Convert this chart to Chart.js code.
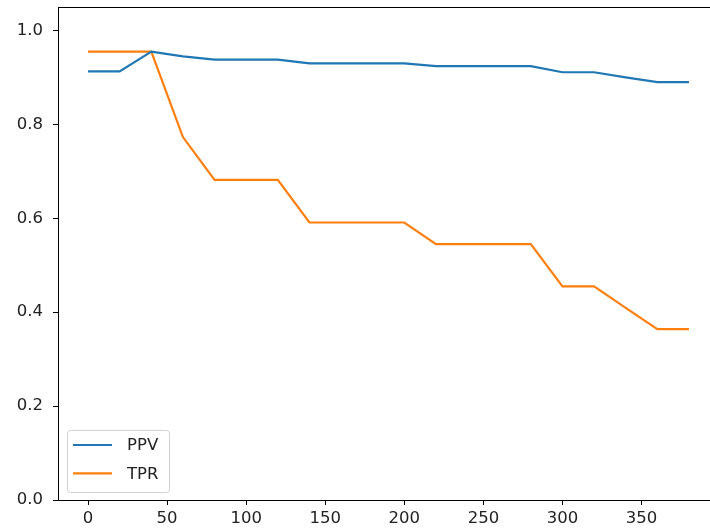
<!DOCTYPE html>
<html>
<head>
<meta charset="utf-8">
<script src="https://cdn.jsdelivr.net/npm/chart.js@4"></script>
<style>
    html, body { margin: 0; padding: 0; background: #fff; }
    .wrap { width: 710px; height: 529px; overflow: hidden; position: relative; }
    canvas { position: absolute; left: 0; top: 0; }
</style>
</head>
<body>
<div class="wrap">
    <canvas id="chart" width="719" height="545"></canvas>
</div>
<script>
// Values
const steps = [0, 20, 40, 60, 80, 100, 120, 140, 160, 180, 200, 220, 240, 260, 280, 300, 320, 340, 360, 380];
const ppv = [0.913, 0.913, 0.955, 0.945, 0.938, 0.938, 0.938, 0.930, 0.930, 0.930, 0.930, 0.924, 0.924, 0.924, 0.924, 0.911, 0.911, 0.900, 0.890, 0.890];
const tpr = [0.955, 0.955, 0.955, 0.773, 0.682, 0.682, 0.682, 0.591, 0.591, 0.591, 0.591, 0.545, 0.545, 0.545, 0.545, 0.455, 0.455, 0.409, 0.364, 0.364];
const xTicks = [0, 50, 100, 150, 200, 250, 300, 350];
const yTicks = [0, 0.2, 0.4, 0.6, 0.8, 1.0];
const seriesNames = ["PPV", "TPR"];
const seriesColors = ["#1f77b4", "#ff7f0e"];

Chart.defaults.font.family = "'DejaVu Sans', sans-serif";
Chart.defaults.font.size = 16.5;
Chart.defaults.color = "#222";

const chartElement = document.getElementById("chart");
const plotBottom = 500;

// Frame round the plot area, like the matplotlib spines
const framePlugin = {
    id: "frame",
    afterDraw(chart) {
        const { ctx, chartArea } = chart;
        ctx.save();
        ctx.strokeStyle = "#000";
        ctx.lineWidth = 1;
        ctx.strokeRect(chartArea.left + 0.5, chartArea.top + 0.5,
            chartArea.right - chartArea.left, chartArea.bottom - chartArea.top);
        ctx.restore();
    },
};

// Boxed legend in the lower left corner of the plot area
const legendBoxPlugin = {
    id: "legendBox",
    afterDraw(chart) {
        const { ctx, chartArea } = chart;
        const x0 = chartArea.left + 9;
        const y0 = chartArea.bottom - 70;
        const w = 102, h = 62;
        ctx.save();
        ctx.beginPath();
        ctx.roundRect(x0 + 0.5, y0 + 0.5, w, h, 3);
        ctx.fillStyle = "rgba(255,255,255,0.8)";
        ctx.fill();
        ctx.strokeStyle = "#d0d0d0";
        ctx.lineWidth = 1;
        ctx.stroke();

        chart.data.datasets.forEach((ds, i) => {
            const y = y0 + 15 + i * 28.3;
            ctx.beginPath();
            ctx.moveTo(x0 + 6, y);
            ctx.lineTo(x0 + 45, y);
            ctx.strokeStyle = ds.borderColor;
            ctx.lineWidth = 2.2;
            ctx.stroke();
            ctx.fillStyle = "#222";
            ctx.font = "16.5px 'DejaVu Sans'";
            ctx.textBaseline = "middle";
            ctx.textAlign = "left";
            ctx.fillText(ds.label, x0 + 60, y + 1);
        });
        ctx.restore();
    },
};

const chart = new Chart(chartElement, {
    type: "line",
    data: {
        datasets: [
            {
                label: seriesNames[0],
                data: steps.map((s, i) => ({ x: s, y: ppv[i] })),
                borderColor: seriesColors[0],
                borderWidth: 2.2,
                pointRadius: 0,
                fill: false,
                tension: 0,
            },
            {
                label: seriesNames[1],
                data: steps.map((s, i) => ({ x: s, y: tpr[i] })),
                borderColor: seriesColors[1],
                borderWidth: 2.2,
                pointRadius: 0,
                fill: false,
                tension: 0,
            },
        ],
    },
    options: {
        responsive: false,
        animation: false,
        layout: { padding: { top: 7, left: 0, right: 0, bottom: 0 } },
        plugins: {
            legend: { display: false },
            tooltip: { enabled: false },
        },
        scales: {
            x: {
                type: "linear",
                min: -19,
                max: 399,
                afterBuildTicks: (scale) => {
                    scale.ticks = xTicks.map((v) => ({ value: v }));
                },
                afterFit: (scale) => {
                    scale.height = chartElement.height - plotBottom;
                    scale.paddingLeft = 0;
                    scale.paddingRight = 0;
                },
                grid: { drawOnChartArea: false, drawTicks: true, tickLength: 5, color: "#000" },
                border: { display: true, color: "#000" },
                ticks: { padding: 4, maxRotation: 0, autoSkip: false },
            },
            y: {
                min: 0,
                max: 1.05,
                afterBuildTicks: (scale) => {
                    scale.ticks = yTicks.map((v) => ({ value: v }));
                },
                afterFit: (scale) => {
                    scale.width = 58;
                    scale.paddingTop = 0;
                    scale.paddingBottom = 0;
                },
                grid: { drawOnChartArea: false, drawTicks: true, tickLength: 5, color: "#000" },
                border: { display: true, color: "#000" },
                ticks: {
                    padding: 10,
                    autoSkip: false,
                    callback: (v) => v.toFixed(1),
                },
            },
        },
    },
    plugins: [framePlugin, legendBoxPlugin],
});
</script>
</body>
</html>
